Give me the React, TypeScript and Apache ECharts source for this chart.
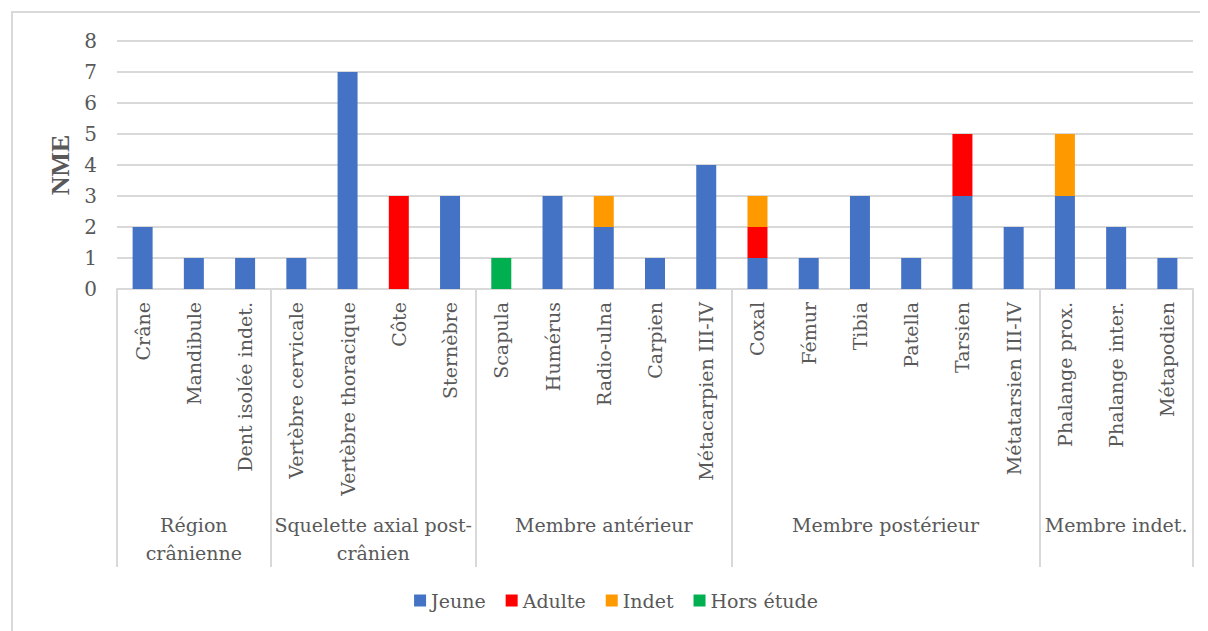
import React, { useEffect, useRef } from "react";
import * as echarts from "echarts";

const categories = [
  "Crâne", "Mandibule", "Dent isolée indet.",
  "Vertèbre cervicale", "Vertèbre thoracique", "Côte", "Sternèbre",
  "Scapula", "Humérus", "Radio-ulna", "Carpien", "Métacarpien III-IV",
  "Coxal", "Fémur", "Tibia", "Patella", "Tarsien", "Métatarsien III-IV",
  "Phalange prox.", "Phalange inter.", "Métapodien",
];
const groups = [
  "Région\ncrânienne",
  "Squelette axial post-\ncrânien",
  "Membre antérieur",
  "Membre postérieur",
  "Membre indet.",
];
const groupSizes = [3, 4, 5, 6, 3];

const jeune = [2, 1, 1, 1, 7, 0, 3, 0, 3, 2, 1, 4, 1, 1, 3, 1, 3, 2, 3, 2, 1];
const adulte = [0, 0, 0, 0, 0, 3, 0, 0, 0, 0, 0, 0, 1, 0, 0, 0, 2, 0, 0, 0, 0];
const indet = [0, 0, 0, 0, 0, 0, 0, 0, 0, 1, 0, 0, 1, 0, 0, 0, 0, 0, 2, 0, 0];
const horsEtude = [0, 0, 0, 0, 0, 0, 0, 1, 0, 0, 0, 0, 0, 0, 0, 0, 0, 0, 0, 0, 0];

const seriesNames = ["Jeune", "Adulte", "Indet", "Hors étude"];
const seriesColors = ["#4472C4", "#FF0000", "#FF9900", "#00B050"];

const FONT = "DejaVu Serif";
const FS = 19;
const TXT = "#595959";
const GRID = "#D9D9D9";

export default function App() {
  const ref = useRef<HTMLDivElement>(null);
  useEffect(() => {
    if (!ref.current) return;
    const chart = echarts.init(ref.current, undefined, { renderer: "svg" });

    const bounds: number[] = [0];
    groupSizes.forEach((s) => bounds.push(bounds[bounds.length - 1] + s));
    const centers = groupSizes.map((s, i) => bounds[i] + s / 2);

    const data = [jeune, adulte, indet, horsEtude];
    chart.setOption({
      animation: false,
      textStyle: { fontFamily: FONT },
      grid: { left: 104, right: 26, top: 28, height: 248 },
      legend: {
        data: seriesNames,
        top: 573,
        left: "center",
        itemWidth: 12,
        itemHeight: 12,
        itemGap: 20,
        icon: "rect",
        textStyle: { fontFamily: FONT, fontSize: FS, color: TXT },
      },
      xAxis: [
        {
          type: "category",
          data: categories,
          position: "bottom",
          axisLine: { show: true, lineStyle: { color: GRID, width: 2 } },
          axisTick: { show: false },
          axisLabel: {
            interval: 0,
            rotate: 90,
            margin: 13,
            fontSize: FS,
            color: TXT,
            fontFamily: FONT,
          },
        },
        {
          type: "value",
          min: 0,
          max: categories.length,
          position: "bottom",
          offset: 0,
          axisLine: { show: false },
          splitLine: { show: false },
          axisTick: {
            show: true,
            customValues: bounds,
            length: 278,
            lineStyle: { color: GRID, width: 2 },
          },
          axisLabel: {
            show: true,
            customValues: centers,
            margin: 222,
            fontSize: FS,
            lineHeight: 28,
            color: TXT,
            fontFamily: FONT,
            formatter: (v: number) => {
              const i = centers.findIndex((c) => Math.abs(c - v) < 1e-6);
              return i >= 0 ? groups[i] : "";
            },
          },
        },
      ],
      yAxis: {
        type: "value",
        min: 0,
        max: 8,
        interval: 1,
        name: "NME",
        nameLocation: "middle",
        nameRotate: 90,
        nameGap: 44,
        nameTextStyle: { fontFamily: "Liberation Serif", fontSize: 26, fontWeight: "bold", color: TXT },
        axisLine: { show: false },
        axisTick: { show: false },
        axisLabel: { fontSize: 20, color: TXT, margin: 20, fontFamily: FONT },
        splitLine: { lineStyle: { color: GRID, width: 2 } },
      },
      series: seriesNames.map((n, i) => ({
        name: n,
        type: "bar",
        stack: "total",
        xAxisIndex: 0,
        barWidth: 20,
        itemStyle: { color: seriesColors[i] },
        data: data[i].map((v) => (v === 0 ? null : v)),
      })),
    });
    return () => chart.dispose();
  }, []);

  return (
    <div
      style={{
        marginLeft: 3,
        marginTop: 3,
        width: 1210,
        height: 640,
        border: "2px solid #D9D9D9",
        boxSizing: "border-box",
      }}
    >
      <div ref={ref} style={{ width: 1206, height: 636 }} />
    </div>
  );
}
